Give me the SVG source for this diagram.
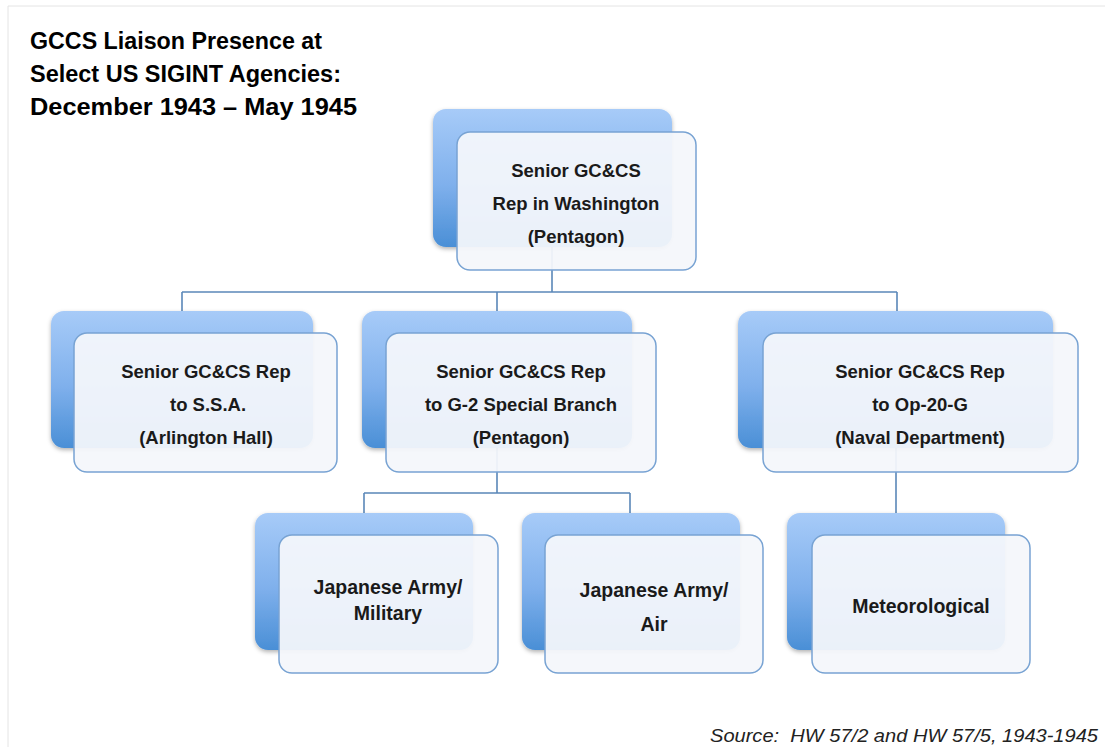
<svg xmlns="http://www.w3.org/2000/svg" width="1105" height="747" viewBox="0 0 1105 747">
  <defs>
    <linearGradient id="backGrad" x1="0" y1="0" x2="0" y2="1">
      <stop offset="0" stop-color="#a7cbf8"/>
      <stop offset="0.55" stop-color="#7fb0ec"/>
      <stop offset="1" stop-color="#4a8fd6"/>
    </linearGradient>
    <filter id="shadow" x="-10%" y="-10%" width="120%" height="125%">
      <feDropShadow dx="0" dy="2" stdDeviation="2" flood-color="#000" flood-opacity="0.3"/>
    </filter>
    <style>
      .back { fill: url(#backGrad); filter: url(#shadow); }
      .front { fill: #f4f6fb; fill-opacity: 0.94; stroke: #78a3d3; stroke-width: 1.5; }
      .conn { fill: none; stroke: #5a87b8; stroke-width: 1.6; }
      .lbl { font-family: "Liberation Sans", Arial, sans-serif; font-weight: bold; font-size: 18.5px; fill: #1a1a1a; text-anchor: middle; }
      .lbl2 { font-size: 19.5px; }
      .title { font-family: "Liberation Sans", Arial, sans-serif; font-weight: bold; font-size: 23px; fill: #000; }
      .src { font-family: "Liberation Sans", Arial, sans-serif; font-style: italic; font-size: 18px; fill: #222; }
    </style>
  </defs>
  <rect x="0" y="0" width="1105" height="747" fill="#ffffff"/>
  <path d="M8,747 V6 H1105" fill="none" stroke="#e4e4e4" stroke-width="1"/>

  <g id="title">
    <text class="title" x="30" y="49" textLength="292" lengthAdjust="spacingAndGlyphs">GCCS Liaison Presence at</text>
    <text class="title" x="30" y="82" textLength="311" lengthAdjust="spacingAndGlyphs">Select US SIGINT Agencies:</text>
    <text class="title" x="30" y="115" textLength="327" lengthAdjust="spacingAndGlyphs">December 1943 – May 1945</text>
  </g>

  <g id="connectors">
    <path class="conn" d="M552,247 V292"/>
    <path class="conn" d="M182,292 H897"/>
    <path class="conn" d="M182,292 V311 M497,292 V311 M897,292 V311"/>
    <path class="conn" d="M497,448 V493 M364,493 H630 M364,493 V513 M630,493 V513"/>
    <path class="conn" d="M896,448 V513"/>
  </g>

  <g id="node-washington">
    <rect class="back" x="433" y="109" width="239" height="138" rx="13"/>
    <rect class="front" x="457" y="132" width="239" height="138" rx="13"/>
    <text class="lbl" x="576" y="177">Senior GC&amp;CS</text>
    <text class="lbl" x="576" y="210">Rep in Washington</text>
    <text class="lbl" x="576" y="243">(Pentagon)</text>
  </g>

  <g id="node-ssa">
    <rect class="back" x="51" y="311" width="262" height="137" rx="13"/>
    <rect class="front" x="74" y="333" width="263" height="139" rx="13"/>
    <text class="lbl" x="206" y="378">Senior GC&amp;CS Rep</text>
    <text class="lbl" x="208" y="411">to S.S.A.</text>
    <text class="lbl" x="206" y="444">(Arlington Hall)</text>
  </g>

  <g id="node-g2">
    <rect class="back" x="362" y="311" width="270" height="137" rx="13"/>
    <rect class="front" x="386" y="333" width="270" height="139" rx="13"/>
    <text class="lbl" x="521" y="378">Senior GC&amp;CS Rep</text>
    <text class="lbl" x="521" y="411">to G-2 Special Branch</text>
    <text class="lbl" x="521" y="444">(Pentagon)</text>
  </g>

  <g id="node-op20g">
    <rect class="back" x="738" y="311" width="315" height="137" rx="13"/>
    <rect class="front" x="763" y="333" width="315" height="139" rx="13"/>
    <text class="lbl" x="920" y="378">Senior GC&amp;CS Rep</text>
    <text class="lbl" x="920" y="411">to Op-20-G</text>
    <text class="lbl" x="920" y="444">(Naval Department)</text>
  </g>

  <g id="node-military">
    <rect class="back" x="255" y="513" width="218" height="137" rx="13"/>
    <rect class="front" x="279" y="535" width="219" height="138" rx="13"/>
    <text class="lbl lbl2" x="388" y="594">Japanese Army/</text>
    <text class="lbl lbl2" x="388" y="620">Military</text>
  </g>

  <g id="node-air">
    <rect class="back" x="522" y="513" width="218" height="137" rx="13"/>
    <rect class="front" x="545" y="535" width="218" height="138" rx="13"/>
    <text class="lbl lbl2" x="654" y="597">Japanese Army/</text>
    <text class="lbl lbl2" x="654" y="631">Air</text>
  </g>

  <g id="node-meteorological">
    <rect class="back" x="787" y="513" width="218" height="137" rx="13"/>
    <rect class="front" x="812" y="535" width="218" height="138" rx="13"/>
    <text class="lbl lbl2" x="921" y="613">Meteorological</text>
  </g>

  <g id="source">
    <text class="src" x="710" y="742" textLength="388" lengthAdjust="spacingAndGlyphs">Source:&#160; HW 57/2 and HW 57/5, 1943-1945</text>
  </g>
</svg>
